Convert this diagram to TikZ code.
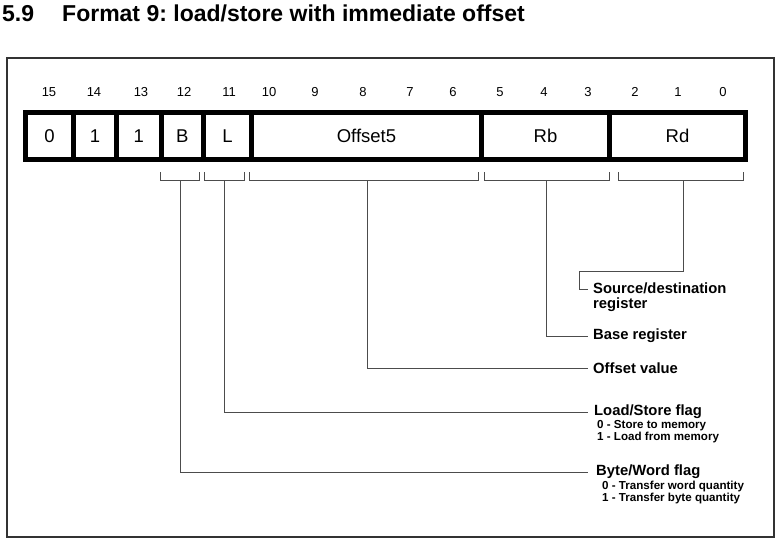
\documentclass[tikz,border=0pt]{standalone}
\usepackage{fontspec}
\setmainfont{Liberation Sans}
\frenchspacing
\begin{document}
\begin{tikzpicture}[x=1pt,y=-1pt,
  field/.style={draw=black, line width=5pt, line join=miter, minimum height=46.5pt, inner sep=0pt, font=\fontsize{18.5}{20}\selectfont},
  bitnum/.style={font=\fontsize{13}{15}\selectfont, inner sep=0pt},
  brk/.style={draw=black!70, line width=1pt},
  lead/.style={draw=black!70, line width=1pt},
  lbl/.style={font=\bfseries\fontsize{14.8}{15}\selectfont, inner ysep=0pt, inner xsep=5pt, anchor=west, align=left},
  sublbl/.style={font=\bfseries\fontsize{11.6}{12}\selectfont, inner sep=0pt, anchor=north west, align=left},
  ttl/.style={font=\bfseries\fontsize{23}{26}\selectfont, inner sep=0pt, anchor=base west}]
\useasboundingbox (0,0) rectangle (782,544);
% title
\node[ttl] (tnum) at (2,21) {5.9};
\node[ttl] (ttext) at (62,21) {Format 9: load/store with immediate offset};
% frame
\draw[black!80, line width=1.5pt] (7,58) rectangle (774,537);
% bit numbers
\foreach \n/\x in {15/49,14/94,13/141,12/184,11/229,10/269,9/315,8/363,7/410,6/453,5/500,4/544,3/588,2/635,1/678,0/723}
  \node[bitnum] (b\n) at (\x,92) {\n};
% fields
\node[field, minimum width=48pt]   (f15) at (49.5,135.75) {0};
\node[field, minimum width=43pt]   (f14) at (95,135.75) {1};
\node[field, minimum width=44.5pt] (f13) at (138.75,135.75) {1};
\node[field, minimum width=42.5pt] (fB)  at (182.25,135.75) {B};
\node[field, minimum width=48pt]   (fL)  at (227.5,135.75) {L};
\node[field, minimum width=230pt]  (fOff) at (366.5,135.75) {Offset5};
\node[field, minimum width=128pt]  (fRb) at (545.5,135.75) {Rb};
\node[field, minimum width=136pt]  (fRd) at (677.5,135.75) {Rd};
% brackets
\draw[brk] (160,172) |- (199,180) -- (199,172);
\draw[brk] (204,172) |- (244,180) -- (244,172);
\draw[brk] (249,172) |- (478,180) -- (478,172);
\draw[brk] (484,172) |- (609,180) -- (609,172);
\draw[brk] (618,172) |- (743,180) -- (743,172);
\coordinate (sB) at (180,180);
\coordinate (sL) at (224,180);
\coordinate (sOff) at (367,180);
\coordinate (sRb) at (546,180);
\coordinate (sRd) at (683,180);
% labels
\node[lbl] (lsrc) at (588,297) {Source/destination\\register};
\coordinate (srcEnd) at (588,289);
\coordinate (srcKnee) at (579,271.7);
\node[lbl] (lbase) at (588,336) {Base register};
\node[lbl] (loff) at (588,368) {Offset value};
\node[lbl, inner xsep=6pt] (lls) at (588,412) {Load/Store flag};
\node[sublbl] (lls2) at (597,420) {0 - Store to memory\\1 - Load from memory};
\node[lbl, inner xsep=8pt] (lbw) at (588,472) {Byte/Word flag};
\node[sublbl] (lbw2) at (602,481) {0 - Transfer word quantity\\1 - Transfer byte quantity};
% leaders
\draw[lead] (sRd) |- (srcKnee) |- (srcEnd);
\draw[lead] (sRb) |- (lbase.west);
\draw[lead] (sOff) |- (loff.west);
\draw[lead] (sL) |- (lls.west);
\draw[lead] (sB) |- (lbw.west);
\end{tikzpicture}
\end{document}
